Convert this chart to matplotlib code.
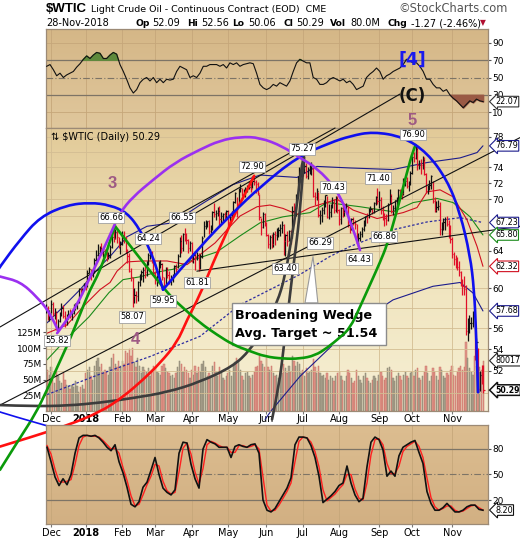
import numpy as np
import pandas as pd
import matplotlib
matplotlib.use("Agg")
import matplotlib.pyplot as plt
import matplotlib.transforms as mtransforms
from matplotlib.colors import LinearSegmentedColormap
from matplotlib.patches import Rectangle, Polygon, PathPatch
from matplotlib.path import Path
from matplotlib.ticker import NullLocator

plt.rcParams["font.family"] = ["DejaVu Sans"]

# ---- trading calendar -------------------------------------------------------
holidays = ["2017-12-25", "2018-01-01", "2018-01-15", "2018-02-19", "2018-03-30",
            "2018-05-28", "2018-07-04", "2018-09-03", "2018-11-22"]

# ---- daily prices (one month per row) --------------------------------------
close = [
    57.99, 57.30, 57.40,
    58.36, 57.47, 57.62, 55.96, 56.69, 57.36, 57.99, 57.14, 56.60, 57.04, 57.30, 57.16, 57.46, 58.09, 58.36, 58.47, 59.97, 59.64, 59.84, 60.42,
    60.37, 61.63, 62.01, 61.44, 61.73, 62.96, 63.57, 63.80, 64.30, 63.73, 63.97, 63.95, 63.37, 63.57, 64.47, 65.61, 65.51, 66.14, 65.56, 64.50, 64.73,
    65.80, 65.45, 64.15, 63.39, 61.79, 61.15, 59.20, 59.29, 59.19, 60.60, 61.34, 61.68, 61.90, 61.68, 62.77, 63.55, 63.91, 63.01, 61.64,
    60.99, 61.25, 62.57, 62.60, 61.15, 60.12, 62.04, 61.36, 60.71, 60.96, 61.19, 62.34, 62.06, 63.40, 65.17, 64.30, 65.88, 65.55, 65.25, 64.38, 64.94,
    63.01, 63.51, 63.37, 63.54, 62.06, 63.42, 65.51, 66.82, 67.07, 67.39, 66.22, 66.52, 68.47, 68.29, 68.38, 68.64, 67.70, 68.05, 68.19, 68.10, 68.57,
    67.25, 67.93, 68.43, 69.72, 70.73, 69.06, 71.14, 71.36, 70.70, 70.96, 71.31, 71.49, 71.49, 71.28, 72.24, 72.13, 71.84, 70.71, 67.88, 66.73, 68.21, 67.04,
    65.81, 64.75, 65.52, 64.73, 65.95, 65.74, 66.10, 66.36, 66.64, 66.89, 65.06, 65.85, 65.07, 66.22, 65.54, 68.58, 68.08, 70.53, 72.76, 73.45, 74.15,
    73.94, 74.14, 72.94, 73.80, 73.85, 74.11, 70.38, 70.33, 71.01, 68.06, 68.08, 68.76, 69.46, 70.46, 67.89, 68.52, 69.30, 69.61, 68.69, 70.13, 68.76,
    67.66, 68.96, 68.49, 69.01, 69.17, 66.94, 66.81, 67.63, 67.20, 67.04, 65.01, 65.46, 65.91, 66.43, 67.35, 67.86, 67.83, 68.72, 68.87, 68.53, 69.51, 70.25, 69.80,
    69.87, 68.72, 67.77, 67.75, 67.54, 69.25, 70.37, 68.59, 68.99, 69.85, 69.85, 71.12, 70.80, 70.78, 72.08, 72.28, 71.57, 72.12, 73.25,
    75.30, 75.23, 76.41, 74.33, 74.34, 74.29, 74.96, 73.17, 70.97, 71.34, 71.78, 72.92, 69.75, 68.65, 69.12, 69.17, 66.43, 66.82, 67.33, 67.59, 67.04, 66.18, 65.31,
    63.69, 63.14, 63.10, 62.21, 61.67, 60.67, 60.19, 59.93, 55.69, 56.25, 56.46, 56.46, 57.20, 53.43, 54.63, 50.42, 51.63, 51.56, 50.29,
]
high = [
    58.36, 58.14, 57.75,
    58.82, 58.60, 57.97, 57.67, 56.89, 57.59, 58.46, 58.28, 57.65, 57.37, 57.77, 57.83, 57.62, 58.40, 58.47, 58.62, 60.00, 60.07, 60.01, 60.51,
    60.74, 61.91, 62.21, 62.04, 61.96, 63.22, 64.06, 64.77, 64.52, 64.89, 64.31, 64.27, 63.98, 63.90, 64.63, 65.79, 66.66, 66.46, 66.35, 65.58, 65.12,
    66.20, 66.25, 65.68, 64.26, 63.77, 62.17, 61.23, 60.02, 59.71, 60.75, 61.54, 61.89, 62.20, 62.43, 62.92, 63.73, 64.24, 63.98, 63.20,
    61.77, 61.39, 62.90, 63.05, 62.67, 61.22, 62.20, 62.30, 61.77, 61.42, 61.49, 62.46, 62.57, 63.63, 65.57, 65.74, 66.00, 66.55, 66.00, 65.35, 65.12,
    65.05, 63.74, 64.02, 63.86, 63.79, 63.68, 65.65, 67.45, 67.51, 67.45, 67.53, 66.92, 68.57, 69.56, 68.71, 69.05, 69.20, 68.47, 68.39, 68.53, 68.65,
    68.76, 68.14, 68.63, 69.83, 70.84, 70.30, 71.34, 71.89, 71.39, 71.30, 71.45, 71.73, 72.30, 71.95, 72.83, 72.90, 72.32, 72.18, 70.59, 67.79, 68.50, 68.32,
    67.26, 65.94, 65.81, 65.95, 66.16, 66.23, 66.62, 66.73, 67.03, 67.45, 67.08, 65.93, 66.24, 66.40, 66.40, 69.20, 69.49, 70.66, 72.90, 74.03, 74.46,
    75.27, 75.00, 74.54, 74.07, 74.59, 74.70, 74.06, 70.86, 71.35, 70.90, 68.67, 69.05, 69.94, 70.47, 70.43, 69.38, 69.42, 70.23, 70.05, 70.43, 70.37,
    68.87, 69.05, 69.28, 69.47, 69.54, 69.18, 67.23, 67.82, 67.83, 67.57, 67.11, 65.97, 66.27, 66.77, 67.48, 68.00, 68.30, 68.96, 69.24, 69.00, 69.62, 70.38, 71.40,
    71.00, 70.29, 69.13, 68.30, 68.18, 69.58, 71.28, 70.59, 69.25, 69.94, 70.27, 71.31, 71.30, 71.21, 72.67, 72.76, 72.71, 72.30, 73.52,
    75.43, 75.91, 76.90, 76.79, 74.90, 75.09, 75.39, 75.37, 73.22, 71.79, 72.33, 72.97, 72.24, 70.24, 69.81, 69.85, 69.69, 67.29, 67.78, 67.87, 68.01, 67.47, 66.92,
    65.53, 63.88, 63.59, 63.34, 62.89, 61.86, 61.00, 61.28, 60.35, 56.95, 57.31, 57.10, 57.69, 56.64, 55.04, 54.11, 51.96, 52.50, 52.56,
]
low = [
    57.51, 56.75, 56.73,
    57.50, 57.22, 56.91, 55.82, 55.88, 56.62, 57.18, 56.96, 56.13, 56.30, 56.88, 56.94, 56.80, 57.38, 57.79, 57.86, 58.52, 59.29, 59.39, 59.81,
    59.84, 60.16, 61.58, 60.87, 61.19, 61.64, 62.93, 63.43, 63.63, 63.55, 63.32, 63.35, 62.94, 63.12, 63.24, 64.36, 64.97, 65.31, 64.91, 64.28, 63.67,
    64.65, 64.93, 63.79, 62.67, 61.66, 60.73, 58.07, 58.53, 58.48, 58.66, 60.20, 60.83, 60.68, 61.02, 61.30, 62.45, 63.09, 62.73, 61.35,
    60.44, 60.18, 61.05, 62.11, 60.89, 59.95, 60.34, 61.05, 60.42, 60.30, 60.62, 61.19, 61.66, 62.12, 63.36, 63.79, 64.04, 65.07, 64.79, 63.80, 64.01,
    62.76, 62.66, 61.92, 62.99, 61.81, 62.04, 63.22, 65.52, 66.43, 66.68, 65.91, 66.07, 66.39, 67.85, 67.52, 67.94, 66.92, 67.18, 67.34, 67.44, 67.60,
    66.79, 66.91, 67.54, 68.04, 69.55, 67.83, 69.40, 70.94, 70.37, 70.41, 70.25, 70.90, 71.26, 70.93, 71.35, 71.74, 70.73, 70.47, 67.51, 65.80, 66.58, 66.87,
    65.64, 64.35, 64.24, 64.34, 64.47, 64.69, 65.22, 65.60, 65.68, 66.02, 63.59, 63.40, 64.51, 65.08, 64.80, 65.44, 67.09, 68.03, 70.34, 72.12, 72.69,
    72.88, 73.30, 72.68, 72.46, 73.14, 73.02, 70.23, 69.32, 69.91, 67.89, 67.03, 67.33, 68.20, 69.11, 67.72, 67.69, 67.92, 68.89, 68.36, 68.43, 68.32,
    66.92, 67.02, 67.88, 68.00, 68.60, 66.69, 66.00, 66.35, 66.95, 66.48, 64.84, 64.43, 65.06, 65.55, 66.23, 66.81, 67.17, 67.77, 68.42, 68.18, 68.37, 69.30, 69.45,
    68.89, 68.22, 67.51, 66.86, 66.96, 67.36, 69.40, 68.35, 68.09, 68.30, 68.85, 69.40, 70.35, 70.00, 70.56, 71.61, 71.32, 71.00, 71.78,
    73.07, 74.69, 75.09, 73.70, 73.82, 73.07, 73.77, 73.04, 70.73, 70.70, 71.12, 71.31, 69.58, 68.47, 68.46, 68.74, 65.74, 65.82, 66.35, 66.33, 66.86, 65.46, 64.84,
    63.23, 62.51, 62.11, 61.90, 61.31, 60.26, 59.26, 59.28, 55.37, 54.75, 55.54, 55.87, 56.09, 52.97, 53.54, 50.15, 50.25, 50.84, 50.06,
]
volume = [  # millions
    72, 65, 58,
    70, 50, 45, 62, 55, 48, 45, 60, 50, 42, 40, 35, 42, 38, 48, 40, 30, 38, 42, 35,
    60, 65, 70, 55, 50, 72, 80, 85, 70, 75, 60, 65, 62, 58, 70, 85, 90, 75, 70, 80, 72,
    80, 75, 95, 92, 98, 88, 100, 78, 70, 85, 72, 60, 70, 65, 62, 68, 55, 65, 72,
    70, 62, 60, 58, 72, 75, 68, 62, 60, 55, 58, 52, 60, 70, 80, 75, 62, 70, 65, 60, 52,
    65, 58, 72, 60, 70, 62, 75, 80, 70, 55, 60, 55, 72, 78, 62, 55, 70, 60, 52, 50, 55,
    60, 65, 55, 72, 78, 85, 80, 65, 55, 50, 60, 62, 55, 52, 58, 62, 70, 72, 88, 80, 75, 70,
    85, 70, 65, 72, 60, 55, 58, 52, 62, 60, 75, 68, 60, 72, 62, 88, 80, 72, 78, 75, 60,
    65, 55, 68, 60, 62, 65, 82, 70, 60, 72, 60, 55, 58, 52, 60, 50, 55, 52, 48, 55, 60,
    62, 55, 50, 48, 55, 65, 60, 52, 45, 48, 65, 55, 50, 45, 55, 60, 52, 48, 45, 50, 55, 52, 48,
    58, 62, 55, 50, 52, 68, 70, 65, 52, 48, 55, 60, 55, 50, 58, 62, 55, 52, 60,
    62, 55, 65, 68, 52, 50, 55, 62, 72, 60, 48, 55, 68, 62, 55, 50, 70, 65, 55, 52, 60, 58, 65,
    72, 58, 55, 62, 68, 72, 65, 70, 110, 85, 68, 62, 58, 88, 72, 55, 70, 65, 80,
]

# ---- indicator panels (values read evenly across the year) -----------------
rsi = [
    63, 65, 59, 52, 55, 50, 53, 55, 57, 62,
    66, 71, 75, 72, 76, 79, 78, 72, 72, 76,
    79, 77, 65, 57, 48, 38, 32, 36, 44, 48,
    50, 46, 50, 44, 48, 44, 48, 47, 48, 57,
    63, 61, 59, 50, 52, 50, 55, 63, 63, 65,
    65, 65, 63, 65, 61, 67, 65, 67, 63, 65,
    66, 67, 66, 55, 42, 38, 36, 38, 42, 40,
    44, 42, 40, 46, 57, 67, 71, 69, 67, 67,
    50, 48, 42, 42, 44, 48, 50, 48, 46, 48,
    44, 46, 42, 36, 38, 40, 50, 54, 57, 61,
    57, 48, 52, 54, 57, 59, 61, 65, 71, 69,
    67, 67, 63, 57, 48, 48, 42, 38, 38, 34,
    36, 30, 26, 23, 19, 15, 19, 23, 21, 25,
    23, 22.07,
]
stoch_k = [
    82, 65, 47, 37, 45, 38, 50, 75, 93, 96,
    96, 95, 96, 93, 88, 82, 78, 85, 65, 52,
    35, 15, 12, 18, 35, 41, 55, 70, 50, 34,
    29, 26, 32, 75, 88, 87, 62, 45, 34, 80,
    91, 88, 86, 82, 82, 82, 70, 83, 85, 83,
    82, 85, 86, 75, 20, 8, 6, 10, 18, 26,
    34, 46, 85, 94, 94, 93, 84, 70, 48, 17,
    21, 25, 30, 37, 40, 60, 40, 26, 18, 22,
    59, 88, 94, 91, 79, 48, 54, 48, 72, 82,
    85, 88, 90, 76, 63, 30, 16, 8, 8, 11,
    16, 11, 6, 6, 8, 12, 14, 14, 9, 8,
]
stoch_d = [
    84, 74, 56, 42, 41, 42, 44, 62, 84, 94,
    96, 95, 95, 94, 90, 85, 80, 81, 75, 58,
    43, 25, 13, 15, 26, 38, 48, 62, 60, 42,
    31, 27, 29, 53, 81, 87, 74, 53, 39, 57,
    85, 89, 87, 84, 82, 82, 76, 76, 84, 84,
    82, 83, 85, 80, 47, 14, 7, 8, 14, 22,
    30, 40, 65, 89, 94, 93, 88, 77, 59, 32,
    19, 23, 27, 33, 38, 50, 50, 33, 22, 20,
    40, 73, 91, 92, 85, 63, 51, 51, 60, 77,
    83, 86, 89, 83, 70, 46, 23, 12, 8, 10,
    13, 13, 8, 6, 7, 10, 13, 14, 11, 8.2,
]

# ---- overlays on the price panel: (trading-day index, price) ---------------
ma_red = [(0.7, 55.5), (12.2, 56.3), (21.4, 58.1), (31.2, 59.85), (37.0, 60.6), (41.0, 61.8),
          (46.8, 62.8), (56.0, 62.9), (69.8, 62.9), (81.3, 62.5), (88.8, 63.6), (97.5, 64.9),
          (104.4, 66.4), (111.9, 68.0), (121.7, 69.1), (129.1, 69.3), (136.6, 68.9), (144.7, 68.2),
          (152.2, 69.0), (167.8, 70.0), (177.0, 68.7), (190.8, 67.7), (205.8, 68.4), (213.8, 69.0),
          (219.6, 70.9), (227.1, 71.15), (234.6, 70.3), (242.6, 67.55), (248.4, 64.5), (251.8, 62.32)]
ma_green = [(0.7, 53.0), (12.2, 55.0), (24.9, 57.1), (36.4, 59.55), (44.5, 60.9), (54.3, 61.2),
            (64.1, 61.7), (73.3, 62.0), (83.1, 62.9), (98.6, 63.9), (111.9, 65.7), (123.4, 67.2),
            (136.6, 67.9), (152.2, 68.4), (162.0, 69.6), (181.0, 69.1), (200.0, 68.5), (211.6, 69.6),
            (225.4, 70.1), (234.6, 69.6), (244.4, 67.9), (251.8, 65.8)]
ma_200 = [(0.7, 49.9), (31.2, 51.7), (60.0, 53.3), (88.8, 55.2), (111.9, 58.3), (129.1, 59.85),
          (146.4, 61.45), (163.7, 63.4), (175.3, 64.5), (200.0, 66.4), (219.6, 67.3), (238.6, 67.8),
          (251.8, 67.23)]
band_upper = [(0.7, 56.5), (19.7, 59.85), (31.2, 62.3), (37.0, 63.4), (46.8, 65.6), (58.3, 66.8),
              (73.3, 67.2), (88.8, 69.3), (107.8, 71.8), (123.4, 73.0), (144.7, 72.7), (156.2, 74.1),
              (175.3, 73.9), (200.0, 73.7), (219.6, 74.6), (238.6, 75.2), (248.4, 75.9), (251.8, 76.79)]
band_lower = [(126.3, 47.8), (129.7, 48.5), (146.4, 51.5), (165.4, 54.4), (181.0, 56.6),
              (200.0, 58.8), (223.0, 60.2), (238.6, 60.6), (246.1, 59.5), (251.8, 57.68)]

purple_a = [(-35.0, 61.7), (-26.4, 61.2), (-14.9, 60.7), (-5.1, 59.1), (2.4, 57.5), (7.0, 55.8)]
purple_b = [(6.5, 55.5), (12.2, 56.8), (18.0, 58.3), (24.3, 60.7), (31.2, 63.4), (37.0, 65.8),
            (42.7, 68.4), (50.2, 70.3), (61.8, 72.4), (74.4, 74.6), (88.8, 76.3), (100.3, 77.5),
            (111.9, 78.0), (123.4, 77.9), (136.6, 76.7), (146.4, 75.2), (156.2, 73.9),
            (167.8, 71.15), (175.3, 67.55), (181.0, 64.1)]
blue_left = [(-29.3, 61.45), (-26.4, 62.3), (-14.9, 65.25), (-3.3, 67.9), (12.2, 69.3), (25.5, 69.6),
             (37.0, 69.3), (46.8, 68.4), (54.3, 66.4), (60.0, 64.1), (64.1, 62.0), (67.5, 59.85)]
blue_big = [(67.5, 59.85), (88.8, 64.5), (107.8, 68.4), (123.4, 71.5), (144.7, 75.3), (163.7, 77.2),
            (175.3, 78.1), (188.5, 78.7), (205.8, 78.0), (219.6, 75.9), (231.1, 72.4), (238.6, 68.4),
            (244.4, 63.5), (246.7, 59.85), (247.8, 55.8), (249.0, 50.1)]
blue_low = [(-32.1, 48.7), (-26.4, 48.4), (-7.4, 47.6), (12.2, 46.8)]
green_a = [(-26.4, 43.8), (-14.9, 46.3), (-6.2, 48.2), (0.7, 50.3), (6.5, 52.3), (12.2, 54.3),
           (16.8, 56.1), (21.4, 58.1), (25.5, 59.85), (29.5, 61.2), (33.0, 62.8), (35.3, 64.1),
           (37.6, 65.5), (39.9, 66.8)]
green_b = [(39.9, 66.8), (48.5, 64.6), (57.1, 62.5), (65.8, 60.5), (72.7, 59.0), (79.0, 58.0),
           (88.8, 56.5), (98.6, 55.35), (107.8, 54.4), (117.6, 53.8), (126.3, 53.3), (136.6, 53.1),
           (146.4, 53.1), (155.1, 53.4), (162.0, 54.1), (169.5, 55.1), (175.3, 56.0), (181.0, 58.1),
           (186.8, 60.4), (192.6, 62.8), (196.6, 64.7), (202.4, 68.7), (208.1, 73.4), (211.6, 76.2),
           (213.0, 76.9)]
red_arc = [(-26.4, 45.6), (-7.4, 46.4), (12.2, 47.3), (31.2, 48.4), (44.5, 49.7), (56.0, 51.2),
           (65.8, 52.7), (75.6, 54.6), (81.3, 56.8), (88.8, 59.3), (96.3, 62.7), (104.4, 66.2),
           (110.1, 68.8), (115.9, 71.1), (120.0, 72.9)]
grey_a = [(-26.4, 49.0), (-7.4, 48.9), (12.2, 48.95), (31.2, 49.2), (50.2, 49.6), (69.8, 50.1),
          (88.8, 51.0), (107.8, 52.4), (117.6, 53.9), (125.1, 55.8), (129.1, 57.3), (133.2, 58.5),
          (137.8, 61.2), (142.4, 66.4), (145.3, 70.3), (147.0, 73.7), (148.5, 75.3)]
grey_b = [(130.3, 47.8), (134.3, 50.6), (137.2, 54.4), (140.1, 58.5), (142.9, 62.8), (145.3, 66.4),
          (147.0, 70.3), (148.2, 73.7), (148.8, 75.3)]
trend_lines = [
    [(-26.4, 56.1), (204.0, 84.0)],
    [(54.3, 65.7), (166.6, 79.2)],
    [(-26.4, 49.0), (273.2, 77.9)],
    [(87.0, 61.8), (273.2, 66.8)],
]
price_labels = [
    (6.5, 54.8, "55.82"), (37.6, 67.8, "66.66"), (58.9, 65.4, "64.24"), (49.6, 57.1, "58.07"),
    (67.5, 58.7, "59.95"), (78.5, 67.8, "66.55"), (87.1, 60.6, "61.81"), (118.8, 74.1, "72.90"),
    (147.6, 76.4, "75.27"), (165.4, 71.5, "70.43"), (158.0, 64.9, "66.29"), (137.8, 62.1, "63.40"),
    (191.4, 72.6, "71.40"), (194.8, 65.6, "66.86"), (180.4, 63.1, "64.43"), (211.5, 78.3, "76.90"),
]
wave_labels = [("3", 38.2, 72.0, "#9e5a84"), ("4", 51.4, 54.9, "#9e5a84"), ("5", 211.0, 80.3, "#9e5a84")]
wedge_box = (107.2, 54.4, 196.0, 58.5)
wedge_pointer = [(149.3, 58.5), (156.7, 58.5), (153.9, 63.4)]

price_ticks = [52, 54, 56, 60, 64, 70, 72, 74, 78]
right_tags = [(76.79, "#1c1c8c"), (67.23, "#1c1c8c"), (65.80, "#1a8a1a"), (62.32, "#d01020"), (57.68, "#1c1c8c")]

# ---- figure ------------------------------------------------------------------
dates = pd.bdate_range("2017-11-28", "2018-11-28")
dates = dates[~dates.isin(pd.to_datetime(holidays))]
idx = np.arange(len(dates))
month_pos = [i for i in range(1, len(dates)) if dates[i].month != dates[i - 1].month]
month_lab = ["2018" if dates[i].month == 1 else dates[i].strftime("%b") for i in month_pos]

close_a = np.array(close)
up = np.r_[True, close_a[1:] >= close_a[:-1]]
bar_col = np.where(up, "#111111", "#e0102a")

XLIM = (0.1, 254.7)
EDGE = "#9c8a76"

fig = plt.figure(figsize=(5.2, 5.4), dpi=100)


def rect(top_px, bottom_px):
    return [46 / 520, 1 - bottom_px / 540, 442 / 520, (bottom_px - top_px) / 540]


def gradient(axis, colors):
    cmap = LinearSegmentedColormap.from_list("bg", colors)
    axis.imshow(np.linspace(1, 0, 256).reshape(-1, 1), cmap=cmap, aspect="auto",
                extent=(0, 1, 0, 1), transform=axis.transAxes, zorder=0, interpolation="bicubic")


def tag(axis, y, text, ec, bold=False, lw=0.8, size=5.8):
    tr = mtransforms.blended_transform_factory(axis.transAxes, axis.transData)
    axis.text(1.016, y, text, transform=tr, fontsize=size, va="center", ha="left",
              fontweight="bold" if bold else "normal", zorder=30, clip_on=False,
              bbox=dict(boxstyle="larrow,pad=0.1", fc="white", ec=ec, lw=lw))


def style_panel(axis):
    for sp in axis.spines.values():
        sp.set_color(EDGE)
        sp.set_linewidth(0.9)
    axis.set_xlim(*XLIM)
    axis.yaxis.tick_right()
    axis.tick_params(axis="y", length=2, labelsize=6.5, pad=1, color="#555555")
    axis.tick_params(axis="x", length=2, labelsize=7, pad=1, color="#777777")


ax_top = fig.add_axes(rect(29, 128), zorder=1)
ax_bg = fig.add_axes(rect(128, 411), zorder=2)
ax = fig.add_axes(rect(128, 411), zorder=3)
ax_bot = fig.add_axes(rect(425, 524), zorder=4)

# ---- top panel (RSI) ---------------------------------------------------------
gradient(ax_top, ["#e0c79c", "#d5b787"])
rsi_x = np.linspace(0.5, 251.9, len(rsi))
rsi_a = np.array(rsi, dtype=float)
for m in month_pos:
    ax_top.axvline(m, color="#c6a77a", lw=0.6, zorder=1)
for lv in (10, 90):
    ax_top.axhline(lv, color="#c6a77a", lw=0.6, zorder=1)
ax_top.axhline(70, color="#7d7466", lw=0.9, zorder=2)
ax_top.axhline(30, color="#7d7466", lw=0.9, zorder=2)
ax_top.axhline(50, color="#7d7466", lw=0.8, ls=(0, (6, 2, 1, 2)), zorder=2)
ax_top.fill_between(rsi_x, rsi_a, 70, where=rsi_a > 70, interpolate=True, color="#5e8a3c", zorder=3)
ax_top.fill_between(rsi_x, rsi_a, 30, where=rsi_a < 30, interpolate=True, color="#9a5a45", zorder=3)
ax_top.plot(rsi_x, rsi_a, color="#111111", lw=0.8, zorder=4)
style_panel(ax_top)
ax_top.set_ylim(-8.5, 106.2)
ax_top.set_yticks([10, 30, 50, 70, 90])
ax_top.set_xticks([])
tag(ax_top, 22.07, "22.07", "#333333")

# ---- price panel background, volume ----------------------------------------
gradient(ax_bg, ["#f6efd4", "#f0e4bd", "#e2ca98"])
vol_face = np.where(up, "#aaa38e", "#e2968a")
vol_edge = np.where(up, "#8c8672", "#c87468")
ax_bg.bar(idx, volume, width=0.75, color=vol_face, edgecolor=vol_edge, linewidth=0.35, zorder=2)
ax_bg.set_xlim(*XLIM)
ax_bg.set_ylim(0, 450)
ax_bg.set_xticks([])
ax_bg.set_yticks([25, 50, 75, 100, 125])
ax_bg.set_yticklabels(["25M", "50M", "75M", "100M", "125M"])
ax_bg.tick_params(axis="y", left=True, right=False, labelleft=True, length=2, labelsize=6.5, pad=1,
                  color="#555555")
for sp in ax_bg.spines.values():
    sp.set_visible(False)
tag(ax_bg, 80.017, "80017", "#222222")

# ---- price panel -------------------------------------------------------------
ax.set_facecolor("none")
ax.set_yscale("log")
for m in month_pos:
    ax.axvline(m, color="#d3bd93", lw=0.6, zorder=0.5)
for p in range(50, 80, 2):
    ax.axhline(p, color="#d3bd93", lw=0.6, zorder=0.5)


def poly(points, color, lw, z, ls="-"):
    xs, ys = zip(*points)
    ax.plot(xs, ys, color=color, lw=lw, ls=ls, zorder=z, clip_on=False,
            solid_capstyle="round", solid_joinstyle="round")


def smooth(points, color, lw, z):
    # quadratic B-spline style path: read points act as control points
    verts = [points[0]]
    codes = [Path.MOVETO]
    n = len(points)
    for k in range(1, n - 1):
        if k == n - 2:
            end = points[-1]
        else:
            end = ((points[k][0] + points[k + 1][0]) / 2,
                   float(np.sqrt(points[k][1] * points[k + 1][1])))
        verts += [points[k], end]
        codes += [Path.CURVE3, Path.CURVE3]
    ax.add_patch(PathPatch(Path(verts, codes), fill=False, ec=color, lw=lw, zorder=z,
                           clip_on=False, capstyle="round", joinstyle="round"))


poly(ma_200, "#2a2aa0", 0.9, 2, ls=(0, (2, 1.6)))
poly(band_upper, "#1c1c8c", 0.8, 2)
poly(band_lower, "#1c1c8c", 0.8, 2)
poly(ma_green, "#1a8a1a", 0.8, 2)
poly(ma_red, "#d01020", 0.8, 2)

ax.vlines(idx, low, high, colors=bar_col, lw=0.9, zorder=3)
ax.hlines(close, idx, idx + 0.7, colors=bar_col, lw=0.9, zorder=3)

for seg in trend_lines:
    poly(seg, "#111111", 0.8, 4)
smooth(grey_a, "#3c3c3c", 1.9, 5)
smooth(grey_b, "#3c3c3c", 1.9, 5)
x0, y0, x1, y1 = wedge_box
ax.add_patch(Rectangle((x0, y0), x1 - x0, y1 - y0, fc="white", ec="#8c8c8c", lw=1.0,
                       zorder=6, clip_on=False))
ax.add_patch(Polygon(wedge_pointer, closed=True, fc="white", ec="#9a9a9a", lw=0.8, zorder=6))
ax.text(x0 + 1.8, 57.25, "Broadening Wedge", fontsize=9.2, fontweight="bold", va="center",
        ha="left", zorder=6.5)
ax.text(x0 + 1.8, 55.45, "Avg. Target ~ 51.54", fontsize=9.2, fontweight="bold", va="center",
        ha="left", zorder=6.5)

smooth(red_arc, "#ff1010", 1.9, 7)
smooth(green_a, "#0a9a0a", 1.9, 7)
smooth(green_b, "#0a9a0a", 1.9, 7)
smooth(blue_left, "#1010ee", 1.9, 7)
smooth(blue_big, "#1010ee", 1.9, 7)
smooth(blue_low, "#1010ee", 1.2, 7)
smooth(purple_a, "#9b30f0", 1.9, 7)
smooth(purple_b, "#9b30f0", 1.9, 7)

for xi, pi, txt in price_labels:
    ax.text(xi, pi, txt, fontsize=6, ha="center", va="center", zorder=9,
            bbox=dict(boxstyle="square,pad=0.15", fc="white", ec="#a0a0a0", lw=0.6))
for txt, xi, pi, col in wave_labels:
    ax.text(xi, pi, txt, fontsize=12, fontweight="bold", color=col, ha="center", va="center",
            family=["Liberation Sans", "DejaVu Sans"], zorder=9, clip_on=False)
ax.text(211.0, 83.7, "(C)", fontsize=12, fontweight="bold", color="#111111", ha="center",
        va="center", zorder=9, clip_on=False)
ax.text(211.0, 89.1, "[4]", fontsize=12.5, fontweight="bold", color="#1a1aee", ha="center",
        va="center", zorder=9, clip_on=False)
ax.text(0.012, 0.985, "\u21c5 $WTIC (Daily) 50.29", transform=ax.transAxes, fontsize=7,
        ha="left", va="top", zorder=9)

style_panel(ax)
ax.set_ylim(48.5, 79.2)
ax.set_yticks(price_ticks)
ax.set_yticklabels([str(p) for p in price_ticks])
ax.yaxis.set_minor_locator(NullLocator())
ax.set_xticks(month_pos)
ax.set_xticklabels(month_lab)
ax.get_xticklabels()[1].set_fontweight("bold")
ax.tick_params(axis="x", pad=0.5)
for val, col in right_tags:
    tag(ax, val, f"{val:.2f}", col)
tag(ax, 50.29, "50.29", "#111111", bold=True, lw=1.1, size=5.6)

# ---- bottom panel (stochastics) ---------------------------------------------
gradient(ax_bot, ["#d2b083", "#dcbd90"])
st_x = np.linspace(0.7, 251.8, len(stoch_k))
for m in month_pos:
    ax_bot.axvline(m, color="#c6a77a", lw=0.6, zorder=1)
ax_bot.axhline(80, color="#7d7466", lw=0.9, zorder=2)
ax_bot.axhline(20, color="#7d7466", lw=0.9, zorder=2)
ax_bot.axhline(50, color="#7d7466", lw=0.8, ls=(0, (6, 2, 1, 2)), zorder=2)
ax_bot.plot(st_x, stoch_d, color="#ff2020", lw=1.0, zorder=3)
ax_bot.plot(st_x, stoch_k, color="#111111", lw=1.2, zorder=4)
style_panel(ax_bot)
ax_bot.set_ylim(-8.2, 108.2)
ax_bot.set_yticks([20, 50, 80])
ax_bot.set_xticks(month_pos)
ax_bot.set_xticklabels(month_lab)
ax_bot.get_xticklabels()[1].set_fontweight("bold")
tag(ax_bot, 8.2, "8.20", "#111111")

# ---- header --------------------------------------------------------------------
fig.text(46 / 520, 1 - 9 / 540, "$WTIC", fontsize=9.5, fontweight="bold", va="center",
         family=["Liberation Sans", "DejaVu Sans"])
fig.text(91 / 520, 1 - 9 / 540, "Light Crude Oil - Continuous Contract (EOD)  CME", fontsize=6.8,
         va="center")
fig.text(508 / 520, 1 - 9 / 540, "\u00a9StockCharts.com", fontsize=8.3, color="#555555",
         va="center", ha="right")
fig.text(46 / 520, 1 - 23 / 540, "28-Nov-2018", fontsize=7, va="center")
header = [(136, "Op", True), (152, "52.09", False), (187, "Hi", True), (201, "52.56", False),
          (232, "Lo", True), (248, "50.06", False), (283, "Cl", True), (296, "50.29", False),
          (330, "Vol", True), (350, "80.0M", False), (387, "Chg", True), (411, "-1.27 (-2.46%)", False)]
for xp, txt, bold in header:
    fig.text(xp / 520, 1 - 23 / 540, txt, fontsize=6.6 if bold else 7, va="center",
             fontweight="bold" if bold else "normal")
fig.text(480 / 520, 1 - 23 / 540, "\u25bc", fontsize=5.5, color="#b01030", va="center")

fig.savefig("out.png", dpi=100)
